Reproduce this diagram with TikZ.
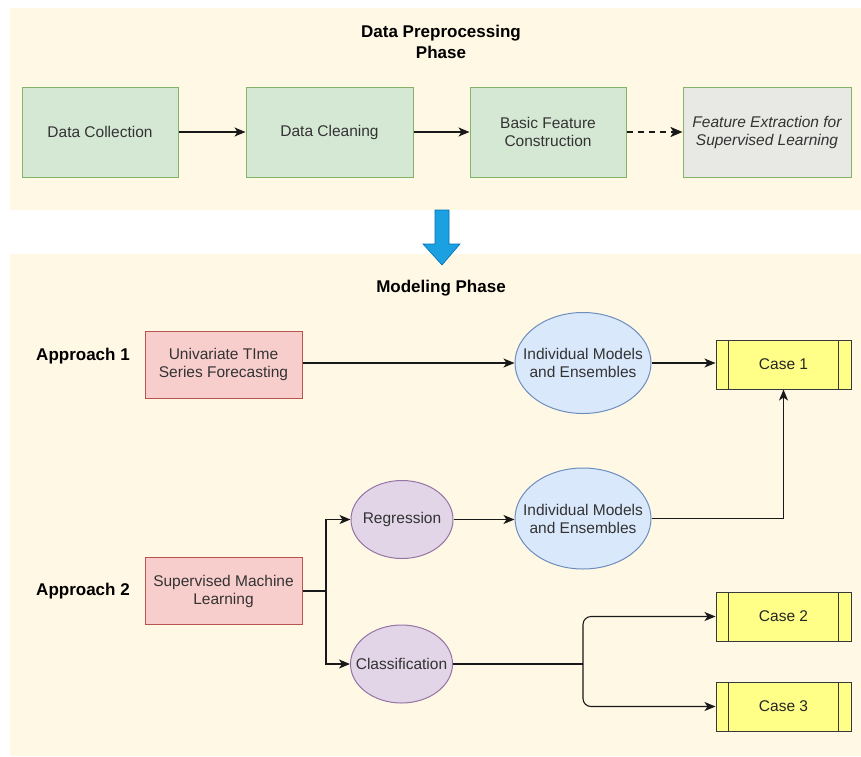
\documentclass[tikz,border=0pt]{standalone}
\usepackage{fontspec}
\setmainfont{Liberation Sans}
\usetikzlibrary{arrows.meta,shapes.geometric,calc}
\definecolor{panel}{RGB}{255,248,229}
\definecolor{gfill}{HTML}{D5E8D4}
\definecolor{gline}{HTML}{82B366}
\definecolor{grayfill}{HTML}{E8E8E5}
\definecolor{rfill}{HTML}{F8CECC}
\definecolor{rline}{HTML}{B85450}
\definecolor{bfill}{HTML}{DAE8FC}
\definecolor{bline}{HTML}{6C8EBF}
\definecolor{pfill}{HTML}{E1D5E7}
\definecolor{pline}{HTML}{9673A6}
\definecolor{yfill}{HTML}{FFFF88}
\definecolor{yline}{HTML}{36393D}
\definecolor{bluearrow}{HTML}{1BA1E2}
\definecolor{bluearrowline}{HTML}{006EAF}
\definecolor{txt}{HTML}{333333}
\tikzset{
  body/.style={font=\fontsize{15.5}{18}\selectfont, text=txt, align=center},
  title/.style={font=\fontsize{17}{21}\selectfont\bfseries, text=black, align=center},
  greenbox/.style={body, draw=gline, fill=gfill, line width=1pt, minimum width=156pt, minimum height=90pt},
  graybox/.style={body, draw=gline, fill=grayfill, line width=1pt, minimum width=168pt, minimum height=90pt, font=\fontsize{15.5}{18}\selectfont\itshape},
  redbox/.style={body, draw=rline, fill=rfill, line width=1pt, minimum width=157pt, minimum height=67pt},
  blueell/.style={ellipse, draw=bline, fill=bfill, line width=1pt, minimum width=136pt, minimum height=101pt, inner sep=0pt},
  purpell/.style={ellipse, draw=pline, fill=pfill, line width=1pt, minimum width=102pt, minimum height=78pt, inner sep=0pt},
  casebox/.style={body, draw=yline, fill=yfill, line width=1pt, minimum width=135pt, minimum height=49pt, text=black!85},
  conn/.style={line width=1.1pt, draw=black!90, -{Stealth[length=11pt,width=9pt,inset=3pt]}},
  plain/.style={line width=1.1pt, draw=black!90},
}
\newcommand{\caselines}[1]{%
  \draw[yline, line width=1pt] ($(#1.north west)+(13,0)$) -- ($(#1.south west)+(13,0)$);
  \draw[yline, line width=1pt] ($(#1.north east)+(-13,0)$) -- ($(#1.south east)+(-13,0)$);}
\begin{document}
\begin{tikzpicture}[x=1pt,y=-1pt]
\useasboundingbox (0,0) rectangle (861,756);
\fill[white] (0,0) rectangle (861,756);
% panels
\fill[panel] (10,8) rectangle (861,210);
\fill[panel] (10,254) rectangle (861,756);
% titles
\node[title] (t1) at (441,42) {Data Preprocessing\\Phase};
\node[title] (t2) at (441,288) {Modeling Phase};
% top row
\node[greenbox] (dc) at (100,132) {Data Collection};
\node[greenbox, minimum width=167pt] (dcl) at (329.5,132) {Data Cleaning};
\node[greenbox] (bfc) at (548,132) {Basic Feature\\Construction};
\node[graybox] (fe) at (767,132) {Feature Extraction for\\Supervised Learning};
\draw[conn] (dc) -- (dcl);
\draw[conn] (dcl) -- (bfc);
\draw[conn, dash pattern=on 6pt off 5pt, line width=2pt, -{Stealth[length=12pt,width=10pt,inset=3pt]}] (bfc) -- (fe);
% blue arrow
\draw[fill=bluearrow, draw=bluearrowline, line width=0.6pt]
  (435,210) -- (449,210) -- (449,244) -- (460,244) -- (442,265) -- (423,244) -- (435,244) -- cycle;
% approach labels
\node[title] (a1) at (83,356) {Approach 1};
\node[title] (a2) at (83,591) {Approach 2};
% modeling
\node[redbox] (uts) at (223.5,364.5) {Univariate TIme\\Series Forecasting};
\node[blueell] (im1) at (583,363) {};
\node[body] (im1t) at (im1) {Individual Models\\and Ensembles};
\node[casebox] (c1) at (783.5,364.5) {Case 1};
\caselines{c1}
\node[redbox] (sml) at (223.5,591) {Supervised Machine\\Learning};
\node[purpell] (reg) at (402,519.5) {};
\node[body] (regt) at (reg) {Regression};
\node[purpell] (cls) at (401.5,664) {};
\node[body] (clst) at (cls) {Classification};
\node[blueell] (im2) at (583,518.5) {};
\node[body] (im2t) at (im2) {Individual Models\\and Ensembles};
\node[casebox] (c2) at (783.5,616.5) {Case 2};
\caselines{c2}
\node[casebox] (c3) at (783.5,706.5) {Case 3};
\caselines{c3}
\coordinate (split) at (326,591);
\coordinate (fork) at (583,664);
\draw[conn] (uts.east |- im1.west) -- (im1.west);
\draw[conn] (im1.east) -- (c1.west |- im1.east);
\draw[plain] (sml.east) -- (split);
\draw[conn] (split) |- (reg.west);
\draw[conn] (split) |- (cls.west);
\draw[conn] (reg.east) -- (im2.west |- reg.east);
\draw[conn] (im2.east) -| (c1.south);
\draw[plain] (cls.east) -- (fork);
\draw[conn, rounded corners=8pt] (fork) |- (c2.west);
\draw[conn, rounded corners=8pt] (fork) |- (c3.west);
\end{tikzpicture}
\end{document}
